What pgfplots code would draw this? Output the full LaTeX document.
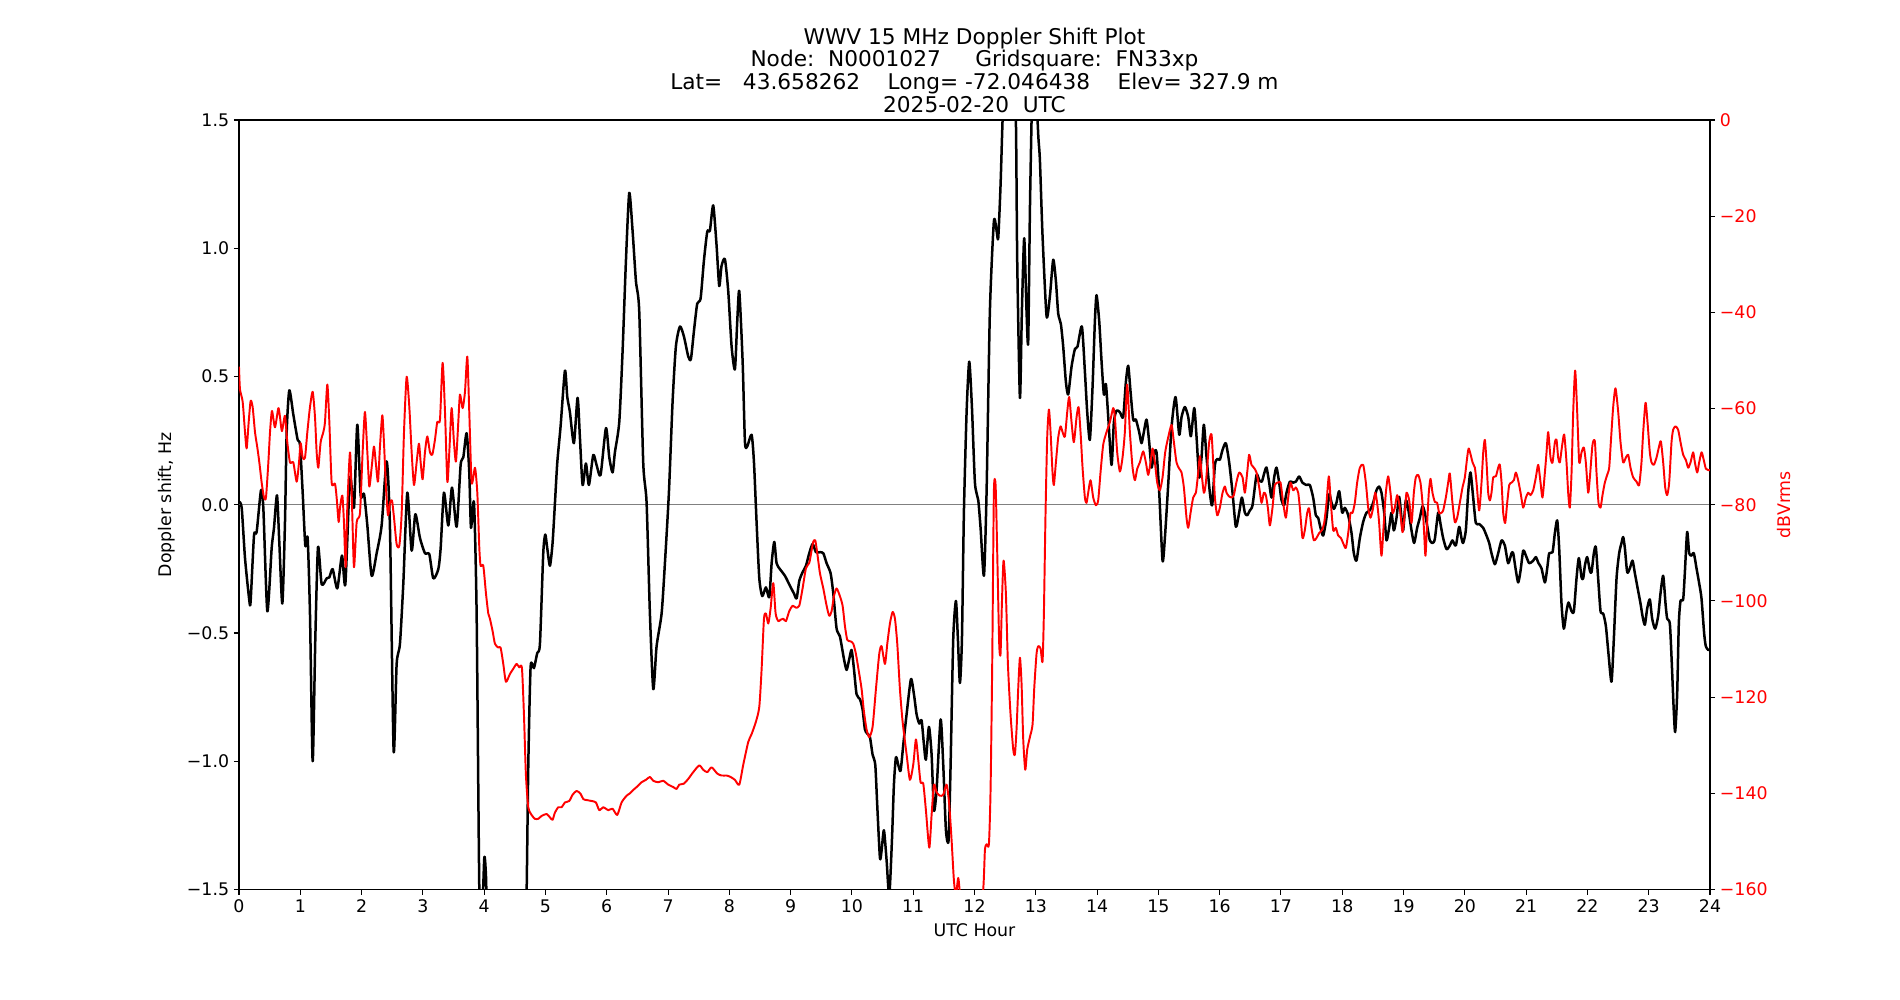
\documentclass[border=0pt]{standalone}
\usepackage{fontspec}
\setmainfont{DejaVu Sans}
\usepackage{pgfplots}
\pgfplotsset{compat=1.18}
\definecolor{zgray}{RGB}{128,128,128}
\newcommand{\tickfont}{\fontsize{12.5}{15}\selectfont}
\begin{document}
\begin{tikzpicture}
\path (-172.08pt,-79.56pt) rectangle (1195.92pt,640.44pt);
\begin{axis}[
  at={(0pt,0pt)}, anchor=south west,
  scale only axis, width=1059.12pt, height=554.04pt,
  xmin=0, xmax=24, ymin=-1.5, ymax=1.5,
  xtick={0,...,24},
  ytick={-1.5,-1,-0.5,0,0.5,1,1.5},
  yticklabels={−1.5,−1.0,−0.5,0.0,0.5,1.0,1.5},
  xtick pos=bottom, ytick pos=left, tick align=outside,
  major tick length=3.6pt,
  every tick/.style={black, line width=0.75pt},
  axis line style={line width=0.75pt},
  /pgf/number format/assume math mode=true,
  tick label style={font=\tickfont},
  xlabel={UTC Hour},
  xlabel style={at={(axis description cs:0.5,-0.0533)}, anchor=center, font=\tickfont},
  ylabel={Doppler shift, Hz},
  ylabel style={at={(axis description cs:-0.0489,0.5)}, anchor=center, font=\tickfont},
  title={WWV 15 MHz Doppler Shift Plot\\Node:\ \ N0001027\ \ \ \ \ Gridsquare:\ \ FN33xp\\Lat=\ \ \ 43.658262\ \ \ \ Long=\ -72.046438\ \ \ \ Elev=\ 327.9 m\\2025-02-20\ \ UTC},
  title style={at={(axis description cs:0.5,1)}, anchor=south, yshift=-1pt, inner sep=0pt, align=center, font=\fontsize{15.6}{16.4}\selectfont},
  clip=true,
]
\addplot[zgray, line width=0.75pt] coordinates {(0,0) (24,0)};
\addplot[black, line width=1.8pt, line join=round, smooth, tension=0.4] coordinates {
(0.000,0.012)(0.044,-0.012)(0.098,-0.208)(0.169,-0.375)(0.190,-0.375)(0.245,-0.120)(0.288,-0.106)(0.359,0.057)(0.397,-0.012)(0.462,-0.415)(0.533,-0.169)(0.571,-0.090)(0.620,0.037)(0.658,-0.149)(0.707,-0.385)(0.750,-0.071)(0.778,0.283)(0.821,0.446)(0.886,0.352)(0.957,0.253)(0.995,0.234)(1.039,0.047)(1.082,-0.159)(1.120,-0.130)(1.158,-0.424)(1.202,-1.000)(1.245,-0.523)(1.289,-0.165)(1.349,-0.310)(1.430,-0.287)(1.474,-0.283)(1.528,-0.251)(1.604,-0.326)(1.680,-0.198)(1.735,-0.310)(1.811,0.106)(1.876,-0.012)(1.930,0.312)(1.985,0.037)(2.039,0.043)(2.094,-0.081)(2.164,-0.277)(2.246,-0.189)(2.327,-0.081)(2.409,0.169)(2.463,-0.090)(2.523,-0.959)(2.572,-0.621)(2.626,-0.542)(2.681,-0.306)(2.746,0.047)(2.817,-0.179)(2.877,-0.037)(2.953,-0.130)(3.034,-0.189)(3.105,-0.193)(3.170,-0.287)(3.252,-0.251)(3.290,-0.169)(3.344,0.047)(3.415,-0.081)(3.475,0.067)(3.551,-0.086)(3.616,0.155)(3.660,0.185)(3.714,0.279)(3.757,0.126)(3.785,-0.090)(3.834,0.008)(3.877,-0.424)(3.921,-1.501)(3.96,-1.65)(4.002,-1.377)(4.03,-1.45)(4.06,-1.7)(4.2,-1.9)(4.5,-1.9)(4.66,-1.8)(4.692,-1.52)
(4.720,-1.014)(4.758,-0.631)(4.812,-0.637)(4.866,-0.578)(4.910,-0.542)(4.964,-0.189)(4.997,-0.116)(5.029,-0.169)(5.073,-0.238)(5.116,-0.149)(5.155,0.008)(5.193,0.165)(5.247,0.306)(5.318,0.523)(5.356,0.420)(5.399,0.361)(5.464,0.240)(5.524,0.417)(5.562,0.263)(5.606,0.077)(5.660,0.161)(5.709,0.077)(5.780,0.194)(5.834,0.155)(5.899,0.116)(5.987,0.299)(6.041,0.185)(6.095,0.126)(6.133,0.204)(6.204,0.322)(6.258,0.597)(6.313,0.951)(6.367,1.216)(6.421,1.069)(6.476,0.872)(6.530,0.754)(6.595,0.165)(6.650,0.008)(6.704,-0.424)(6.759,-0.719)(6.813,-0.552)(6.895,-0.424)(6.949,-0.228)(7.014,0.047)(7.074,0.401)(7.128,0.617)(7.194,0.695)(7.259,0.656)(7.330,0.578)(7.373,0.568)(7.422,0.676)(7.476,0.784)(7.531,0.804)(7.585,0.951)(7.640,1.065)(7.683,1.069)(7.737,1.167)(7.792,1.010)(7.835,0.853)(7.873,0.931)(7.928,0.957)(7.982,0.833)(8.037,0.617)(8.091,0.528)(8.129,0.715)(8.162,0.833)
(8.217,0.558)(8.255,0.244)(8.293,0.228)(8.363,0.273)(8.402,0.165)(8.445,-0.071)(8.489,-0.287)(8.537,-0.356)(8.597,-0.322)(8.652,-0.361)(8.690,-0.228)(8.733,-0.145)(8.771,-0.228)(8.826,-0.251)(8.907,-0.277)(8.989,-0.316)(9.054,-0.346)(9.098,-0.365)(9.141,-0.297)(9.195,-0.263)(9.250,-0.238)(9.304,-0.189)(9.359,-0.153)(9.413,-0.185)(9.478,-0.185)(9.533,-0.189)(9.587,-0.228)(9.652,-0.267)(9.696,-0.346)(9.750,-0.483)(9.804,-0.513)(9.870,-0.601)(9.913,-0.644)(9.957,-0.601)(9.995,-0.566)(10.033,-0.640)(10.076,-0.739)(10.131,-0.758)(10.174,-0.798)(10.212,-0.876)(10.250,-0.892)(10.294,-0.906)(10.337,-0.974)(10.381,-1.014)(10.413,-1.171)(10.457,-1.377)(10.484,-1.348)(10.522,-1.269)(10.566,-1.387)(10.609,-1.525)(10.653,-1.308)(10.685,-1.092)(10.718,-0.984)(10.756,-1.014)(10.794,-1.037)(10.838,-0.935)(10.892,-0.817)(10.963,-0.680)(11.012,-0.739)(11.055,-0.817)(11.099,-0.853)(11.137,-0.841)(11.175,-0.935)(11.207,-0.994)(11.256,-0.866)(11.300,-0.974)(11.338,-1.191)(11.381,-1.112)(11.447,-0.837)(11.490,-1.014)(11.534,-1.269)(11.577,-1.308)(11.610,-1.014)(11.653,-0.523)(11.697,-0.375)(11.729,-0.523)(11.762,-0.695)(11.795,-0.523)(11.827,-0.031)(11.871,0.361)(11.914,0.558)(11.958,0.381)(12.007,0.086)(12.061,0.018)(12.099,-0.090)(12.154,-0.277)(12.197,0.05)
(12.251,0.754)(12.316,1.104)(12.360,1.069)(12.387,1.039)(12.425,1.246)(12.458,1.501)(12.52,1.9)(12.62,1.9)(12.675,1.501)(12.697,0.951)(12.741,0.417)(12.773,0.754)(12.811,1.039)(12.849,0.754)(12.876,0.633)(12.904,1.147)(12.931,1.501)(12.96,1.8)(12.99,1.7)(13.040,1.442)(13.067,1.344)(13.110,1.049)(13.176,0.735)(13.230,0.813)(13.284,0.955)(13.328,0.872)(13.366,0.745)(13.409,0.705)(13.447,0.617)(13.491,0.479)(13.529,0.430)(13.583,0.538)(13.638,0.607)(13.681,0.617)(13.752,0.695)(13.801,0.519)(13.839,0.361)(13.882,0.253)(13.926,0.460)(13.964,0.715)(13.991,0.817)(14.035,0.715)(14.073,0.558)(14.111,0.430)(14.144,0.470)(14.182,0.342)(14.236,0.155)(14.274,0.322)(14.317,0.367)(14.372,0.361)(14.426,0.342)(14.470,0.479)(14.508,0.542)(14.546,0.440)(14.589,0.332)(14.633,0.332)(14.687,0.283)(14.725,0.240)(14.763,0.283)(14.807,0.332)(14.850,0.244)(14.888,0.145)(14.932,0.204)(14.970,0.204)(15.014,0.047)(15.068,-0.218)(15.106,-0.130)(15.160,0.077)(15.215,0.303)(15.280,0.420)(15.340,0.273)(15.378,0.342)(15.432,0.381)(15.487,0.342)(15.530,0.267)(15.585,0.377)(15.623,0.263)(15.666,0.106)(15.704,0.185)(15.742,0.312)(15.786,0.185)(15.840,0.047)(15.878,-0.002)(15.922,0.155)(15.965,0.179)(16.003,0.175)(16.047,0.214)(16.101,0.240)(16.155,0.165)(16.210,0.047)(16.264,-0.086)
(16.318,-0.031)(16.362,0.028)(16.411,-0.031)(16.449,-0.041)(16.492,-0.022)(16.536,-0.002)(16.601,0.116)(16.645,0.096)(16.688,0.090)(16.726,0.122)(16.764,0.145)(16.808,0.086)(16.846,0.028)(16.889,0.106)(16.927,0.145)(16.971,0.086)(17.009,0.018)(17.052,-0.002)(17.090,0.047)(17.145,0.090)(17.199,0.086)(17.243,0.090)(17.297,0.110)(17.351,0.086)(17.417,0.077)(17.471,0.077)(17.525,0.028)(17.569,-0.041)(17.607,-0.051)(17.645,-0.090)(17.689,-0.120)(17.743,-0.051)(17.786,0.041)(17.825,0.008)(17.863,-0.016)(17.906,0.008)(17.950,0.053)(17.999,-0.031)(18.042,-0.012)(18.097,-0.041)(18.151,-0.110)(18.189,-0.189)(18.232,-0.218)(18.287,-0.130)(18.341,-0.067)(18.395,-0.031)(18.450,-0.022)(18.504,0.008)(18.559,0.057)(18.602,0.071)(18.640,0.047)(18.684,-0.031)(18.722,-0.139)(18.765,-0.090)(18.803,-0.031)(18.841,-0.100)(18.885,-0.051)(18.928,0.031)(18.966,-0.051)(18.994,-0.100)(19.037,0.018)(19.086,-0.031)(19.130,-0.100)(19.173,-0.149)(19.222,-0.090)(19.266,-0.051)(19.309,-0.006)(19.347,-0.031)(19.391,-0.090)(19.429,-0.139)(19.472,-0.149)(19.510,-0.134)(19.565,-0.031)(19.603,-0.075)(19.646,-0.130)(19.701,-0.173)(19.755,-0.159)(19.798,-0.139)(19.853,-0.159)(19.907,-0.086)(19.945,-0.130)(19.972,-0.149)(20.016,-0.100)(20.054,0.047)(20.092,0.126)(20.136,0.028)(20.179,-0.071)(20.233,-0.075)(20.299,-0.090)(20.353,-0.120)(20.397,-0.149)
(20.435,-0.189)(20.490,-0.232)(20.544,-0.189)(20.599,-0.139)(20.653,-0.159)(20.707,-0.228)(20.762,-0.189)(20.789,-0.189)(20.827,-0.248)(20.870,-0.303)(20.909,-0.257)(20.952,-0.179)(20.996,-0.198)(21.050,-0.228)(21.115,-0.218)(21.159,-0.204)(21.202,-0.228)(21.251,-0.248)(21.306,-0.303)(21.344,-0.248)(21.376,-0.189)(21.431,-0.185)(21.469,-0.110)(21.507,-0.061)(21.539,-0.169)(21.577,-0.385)(21.615,-0.483)(21.659,-0.415)(21.692,-0.381)(21.741,-0.415)(21.779,-0.415)(21.822,-0.287)(21.860,-0.208)(21.904,-0.283)(21.931,-0.287)(21.958,-0.238)(21.996,-0.204)(22.040,-0.257)(22.067,-0.263)(22.105,-0.189)(22.137,-0.165)(22.175,-0.287)(22.214,-0.415)(22.257,-0.424)(22.301,-0.473)(22.344,-0.582)(22.393,-0.690)(22.431,-0.523)(22.475,-0.287)(22.518,-0.189)(22.556,-0.149)(22.583,-0.126)(22.611,-0.169)(22.649,-0.263)(22.692,-0.248)(22.736,-0.218)(22.774,-0.267)(22.812,-0.316)(22.866,-0.385)(22.899,-0.434)(22.937,-0.468)(22.975,-0.405)(23.018,-0.369)(23.056,-0.444)(23.105,-0.483)(23.154,-0.434)(23.192,-0.346)(23.236,-0.277)(23.274,-0.385)(23.301,-0.444)(23.345,-0.464)(23.377,-0.621)(23.404,-0.778)(23.431,-0.886)(23.464,-0.739)(23.491,-0.464)(23.519,-0.375)(23.562,-0.369)(23.589,-0.267)(23.627,-0.106)(23.660,-0.189)(23.698,-0.198)(23.736,-0.189)(23.780,-0.248)(23.823,-0.306)(23.861,-0.365)(23.905,-0.503)(23.932,-0.552)(23.970,-0.566)(23.997,-0.566)
};
\end{axis}
\begin{axis}[
  at={(0pt,0pt)}, anchor=south west,
  scale only axis, width=1059.12pt, height=554.04pt,
  xmin=0, xmax=24, ymin=-160, ymax=0,
  axis x line=none, axis y line*=right,
  ytick={-160,-140,-120,-100,-80,-60,-40,-20,0},
  yticklabels={−160,−140,−120,−100,−80,−60,−40,−20,0},
  tick align=outside, major tick length=3.6pt,
  every tick/.style={black, line width=0.75pt},
  axis line style={line width=0.75pt},
  yticklabel style={red, font=\tickfont},
  ylabel={dBVrms},
  ylabel style={red, at={(axis description cs:1.0500,0.5)}, anchor=center, rotate=0, font=\tickfont},
  clip=true,
]
\addplot[red, line width=1.4pt, line join=round, smooth, tension=0.4] coordinates {
(0.0,-51.3)(0.016,-56.0)(0.060,-58.6)(0.098,-64.9)(0.125,-68.3)(0.158,-62.8)(0.190,-58.4)(0.223,-59.7)(0.261,-64.9)(0.299,-68.1)(0.332,-71.2)(0.370,-75.4)(0.408,-78.5)(0.440,-78.5)(0.479,-71.2)(0.506,-64.9)(0.538,-60.5)(0.587,-63.9)(0.642,-59.9)(0.669,-61.8)(0.701,-64.7)(0.750,-61.5)(0.788,-67.0)(0.832,-71.2)(0.886,-71.2)(0.941,-75.2)(0.979,-71.2)(1.006,-67.2)(1.039,-70.2)(1.077,-70.2)(1.115,-64.9)(1.158,-59.7)(1.202,-56.5)(1.240,-61.8)(1.267,-69.1)(1.294,-72.3)(1.332,-67.0)(1.376,-64.9)(1.403,-62.8)(1.441,-55.0)(1.474,-62.8)(1.512,-75.4)(1.566,-75.6)(1.593,-78.5)(1.626,-83.6)(1.648,-80.6)(1.686,-78.1)(1.713,-83.8)(1.740,-93.0)(1.767,-80.6)(1.811,-69.1)(1.843,-79.6)(1.876,-93.0)(1.920,-83.6)(1.974,-81.7)(2.017,-69.1)(2.055,-60.7)(2.094,-69.1)(2.126,-76.2)(2.164,-72.3)(2.202,-67.9)(2.235,-71.7)(2.268,-75.2)(2.300,-67.9)(2.338,-61.4)(2.365,-67.0)(2.398,-76.4)(2.431,-82.2)(2.463,-79.6)(2.496,-79.1)(2.529,-82.7)(2.572,-88.2)(2.616,-88.5)(2.654,-81.7)(2.692,-64.9)(2.735,-53.4)(2.779,-59.7)(2.817,-69.1)(2.855,-75.9)(2.898,-71.2)(2.936,-67.3)(2.964,-71.2)(2.996,-74.7)(3.034,-69.1)(3.072,-65.8)(3.116,-69.1)(3.154,-69.6)(3.197,-66.5)(3.235,-62.8)(3.279,-62.3)(3.322,-50.5)(3.361,-60.7)(3.399,-75.2)(3.431,-69.1)(3.469,-59.9)(3.507,-67.0)(3.540,-71.0)(3.578,-62.8)(3.605,-57.1)(3.649,-59.9)(3.687,-56.5)(3.725,-49.2)(3.757,-60.7)(3.796,-75.4)(3.850,-72.3)(3.888,-77.5)(3.921,-89.0)(3.942,-92.7)(3.986,-92.7)(4.029,-98.4)(4.067,-102.6)
(4.094,-103.7)(4.138,-106.3)(4.176,-108.9)(4.230,-109.7)(4.268,-109.7)(4.312,-113.1)(4.355,-116.8)(4.420,-115.2)(4.475,-114.1)(4.529,-113.1)(4.573,-113.8)(4.616,-113.9)(4.649,-123.6)(4.681,-136.1)(4.720,-142.9)(4.774,-144.5)(4.828,-145.3)(4.883,-145.3)(4.937,-144.7)(5.019,-144.3)(5.073,-145.0)(5.116,-145.5)(5.155,-144.0)(5.209,-142.9)(5.263,-142.9)(5.318,-141.9)(5.388,-141.6)(5.443,-140.3)(5.508,-139.5)(5.573,-140.1)(5.617,-141.2)(5.671,-141.4)(5.753,-141.6)(5.823,-141.9)(5.878,-143.5)(5.943,-142.9)(6.025,-143.5)(6.095,-143.2)(6.171,-144.5)(6.242,-141.9)(6.324,-140.5)(6.378,-140.0)(6.433,-139.3)(6.487,-138.7)(6.568,-137.7)(6.639,-137.2)(6.704,-136.6)(6.759,-137.4)(6.840,-137.7)(6.922,-137.4)(7.003,-138.2)(7.085,-138.7)(7.139,-139.1)(7.183,-138.2)(7.259,-138.0)(7.330,-137.0)(7.411,-135.6)(7.509,-134.2)(7.574,-135.1)(7.640,-135.6)(7.710,-134.6)(7.803,-135.9)(7.873,-136.3)(7.955,-136.3)(8.020,-136.6)(8.091,-137.2)(8.162,-138.2)
(8.228,-134.0)(8.309,-129.3)(8.363,-127.7)(8.434,-125.1)(8.489,-122.0)(8.527,-114.1)(8.565,-103.7)(8.597,-102.6)(8.635,-104.7)(8.673,-101.6)(8.717,-96.3)(8.755,-102.6)(8.798,-104.2)(8.837,-103.9)(8.880,-103.7)(8.924,-104.2)(8.978,-102.1)(9.032,-101.0)(9.087,-101.4)(9.141,-101.0)(9.195,-97.4)(9.250,-93.2)(9.304,-92.1)(9.342,-89.5)(9.369,-87.7)(9.402,-87.4)(9.435,-90.1)(9.478,-94.2)(9.533,-97.4)(9.587,-101.0)(9.630,-103.1)(9.669,-102.1)(9.707,-99.0)(9.750,-97.4)(9.804,-99.0)(9.848,-101.0)(9.886,-105.2)(9.924,-108.1)(9.978,-108.4)(10.022,-108.9)(10.065,-111.0)(10.120,-115.2)(10.158,-118.3)(10.196,-123.0)(10.239,-126.7)(10.283,-128.3)(10.337,-126.2)(10.392,-118.3)(10.446,-111.0)(10.484,-109.4)(10.539,-113.1)(10.577,-108.9)(10.620,-104.7)(10.664,-102.3)(10.702,-103.7)(10.740,-108.9)(10.783,-118.3)(10.827,-125.1)(10.892,-131.9)(10.946,-137.2)(11.001,-134.0)(11.044,-128.8)(11.082,-133.0)(11.120,-137.7)(11.164,-138.0)(11.207,-143.5)(11.262,-151.3)(11.300,-144.5)(11.338,-138.2)(11.381,-139.8)(11.436,-140.5)(11.490,-140.3)(11.545,-138.2)(11.588,-142.4)(11.626,-149.7)(11.664,-158.1)(11.697,-161.3)(11.735,-157.6)(11.773,-162.3)(11.85,-170)(12.05,-170)(12.142,-160.0)
(12.170,-151.8)(12.197,-150.6)(12.235,-150.6)(12.262,-139.3)(12.289,-113.1)(12.316,-77.5)(12.344,-75.9)(12.371,-90.1)(12.403,-108.9)(12.425,-111.0)(12.447,-100.5)(12.474,-91.6)(12.512,-98.4)(12.545,-113.1)(12.588,-123.6)(12.632,-130.9)(12.659,-131.9)(12.686,-126.7)(12.713,-118.3)(12.741,-111.8)(12.768,-117.3)(12.795,-128.8)(12.828,-135.1)(12.860,-130.9)(12.904,-128.3)(12.947,-125.7)(12.974,-118.3)(13.012,-111.0)(13.040,-109.4)(13.078,-109.9)(13.110,-112.6)(13.132,-102.6)(13.159,-81.7)(13.186,-66.0)(13.214,-60.2)(13.241,-64.9)(13.273,-73.3)(13.295,-75.9)(13.328,-71.2)(13.366,-66.0)(13.404,-63.7)(13.437,-64.9)(13.475,-65.8)(13.513,-60.7)(13.545,-57.6)(13.583,-62.8)(13.621,-67.0)(13.665,-61.8)(13.698,-59.7)(13.730,-64.9)(13.763,-72.3)(13.801,-78.5)(13.828,-79.6)(13.855,-77.5)(13.893,-74.9)(13.937,-78.5)(13.980,-80.1)(14.018,-79.1)(14.056,-73.3)(14.100,-67.5)(14.154,-64.9)(14.209,-62.8)(14.263,-59.9)(14.290,-61.8)(14.328,-69.1)(14.372,-73.1)(14.415,-70.2)(14.453,-64.9)(14.491,-55.0)(14.535,-64.9)(14.579,-72.3)(14.617,-74.9)(14.655,-72.5)(14.698,-71.2)(14.752,-68.9)(14.796,-71.2)(14.834,-73.8)(14.872,-71.2)(14.905,-68.3)(14.943,-71.2)(14.981,-75.4)(15.024,-77.0)(15.068,-74.3)(15.111,-69.1)(15.160,-66.0)(15.215,-63.4)(15.253,-67.0)(15.296,-71.2)(15.340,-72.5)(15.378,-73.3)(15.416,-76.4)(15.459,-82.7)(15.487,-84.8)(15.525,-81.7)(15.568,-78.5)(15.612,-77.5)(15.650,-73.3)(15.677,-69.9)(15.704,-73.3)(15.742,-77.5)(15.775,-75.4)(15.829,-67.0)(15.867,-65.4)(15.894,-71.2)(15.922,-78.5)(15.960,-82.2)(16.003,-80.6)(16.047,-77.5)(16.085,-76.2)(16.112,-77.5)(16.155,-78.3)(16.193,-78.5)(16.231,-78.0)(16.275,-75.2)(16.319,-73.3)
(16.373,-74.3)(16.411,-77.5)(16.449,-73.3)(16.481,-69.6)(16.519,-71.7)(16.558,-72.3)(16.601,-73.3)(16.645,-76.4)(16.683,-79.6)(16.721,-77.5)(16.753,-78.0)(16.786,-80.6)(16.819,-84.3)(16.862,-80.6)(16.900,-75.9)(16.954,-75.4)(16.993,-75.4)(17.036,-79.6)(17.080,-82.7)(17.118,-78.5)(17.156,-75.4)(17.199,-77.0)(17.243,-76.4)(17.281,-77.5)(17.308,-80.6)(17.351,-86.9)(17.389,-85.3)(17.428,-81.7)(17.460,-80.8)(17.498,-84.8)(17.536,-87.4)(17.580,-86.9)(17.623,-85.9)(17.667,-85.3)(17.705,-83.8)(17.743,-79.6)(17.781,-74.1)(17.814,-79.6)(17.852,-85.3)(17.895,-84.8)(17.933,-86.4)(17.977,-86.9)(18.015,-88.0)(18.058,-89.0)(18.097,-85.9)(18.135,-81.7)(18.167,-81.7)(18.205,-79.6)(18.243,-75.4)(18.287,-72.3)(18.341,-71.7)(18.385,-75.4)(18.423,-80.6)(18.461,-82.7)(18.504,-80.6)(18.537,-77.5)(18.569,-79.6)(18.602,-83.8)(18.640,-90.6)(18.678,-83.8)(18.711,-77.5)(18.749,-74.1)(18.787,-77.5)(18.820,-81.7)(18.858,-80.6)(18.896,-78.0)(18.939,-80.6)(18.983,-85.7)(19.021,-81.7)(19.048,-77.5)(19.092,-79.1)(19.130,-83.8)(19.168,-77.5)(19.200,-74.3)(19.238,-73.8)(19.276,-75.4)(19.309,-79.6)(19.336,-85.9)(19.358,-90.6)(19.385,-83.8)(19.412,-77.5)(19.440,-74.6)(19.472,-77.5)(19.510,-79.4)(19.548,-79.6)(19.581,-81.7)(19.614,-81.7)(19.646,-81.2)(19.690,-78.5)(19.728,-75.4)(19.755,-73.5)(19.798,-79.6)(19.837,-83.6)(19.875,-82.7)(19.918,-79.6)(19.962,-76.4)(20.000,-74.3)(20.038,-70.2)(20.065,-68.3)
(20.126,-71.2)(20.164,-72.3)(20.191,-75.4)(20.234,-81.2)(20.272,-75.4)(20.300,-69.1)(20.327,-66.5)(20.354,-71.2)(20.381,-77.5)(20.408,-79.1)(20.435,-77.5)(20.463,-74.3)(20.506,-74.1)(20.544,-72.3)(20.571,-71.7)(20.599,-75.4)(20.626,-81.7)(20.658,-83.8)(20.691,-79.6)(20.724,-75.9)(20.762,-75.4)(20.800,-74.9)(20.832,-73.3)(20.870,-74.9)(20.909,-77.5)(20.952,-80.6)(20.996,-78.5)(21.034,-77.5)(21.072,-78.0)(21.115,-77.0)(21.159,-74.3)(21.197,-71.7)(21.235,-75.4)(21.267,-78.5)(21.306,-73.3)(21.333,-69.1)(21.360,-64.9)(21.398,-70.2)(21.431,-71.2)(21.469,-67.0)(21.496,-66.5)(21.523,-70.2)(21.550,-71.2)(21.583,-68.1)(21.621,-65.4)(21.659,-71.2)(21.686,-77.5)(21.713,-80.6)(21.741,-73.3)(21.768,-60.7)(21.800,-52.1)(21.833,-60.7)(21.866,-71.2)(21.904,-69.1)(21.942,-68.1)(21.974,-71.2)(22.012,-77.5)(22.040,-74.3)(22.083,-67.5)(22.121,-66.8)(22.148,-73.3)(22.181,-79.6)(22.214,-80.6)(22.246,-78.0)(22.284,-75.4)(22.322,-73.8)(22.355,-72.3)(22.382,-67.0)(22.420,-59.7)(22.458,-55.8)(22.502,-60.7)(22.540,-67.0)(22.583,-71.2)(22.627,-70.2)(22.665,-69.6)(22.703,-72.3)(22.746,-74.3)(22.801,-75.2)(22.844,-75.9)(22.882,-71.2)(22.910,-64.9)(22.948,-58.8)(22.980,-62.8)(23.018,-69.1)(23.046,-71.2)(23.084,-71.7)(23.127,-70.2)(23.165,-68.1)(23.198,-66.8)(23.236,-71.2)(23.269,-76.4)(23.301,-78.0)(23.334,-75.4)(23.372,-67.0)(23.399,-64.4)(23.437,-63.7)(23.480,-64.4)(23.519,-67.0)(23.562,-69.6)(23.606,-70.7)(23.644,-72.3)(23.682,-71.2)(23.725,-69.1)(23.753,-71.2)(23.791,-73.3)(23.823,-71.2)(23.861,-69.1)(23.889,-70.2)(23.932,-72.5)(23.970,-72.8)(23.997,-72.8)
};
\end{axis}
\end{tikzpicture}
\end{document}
